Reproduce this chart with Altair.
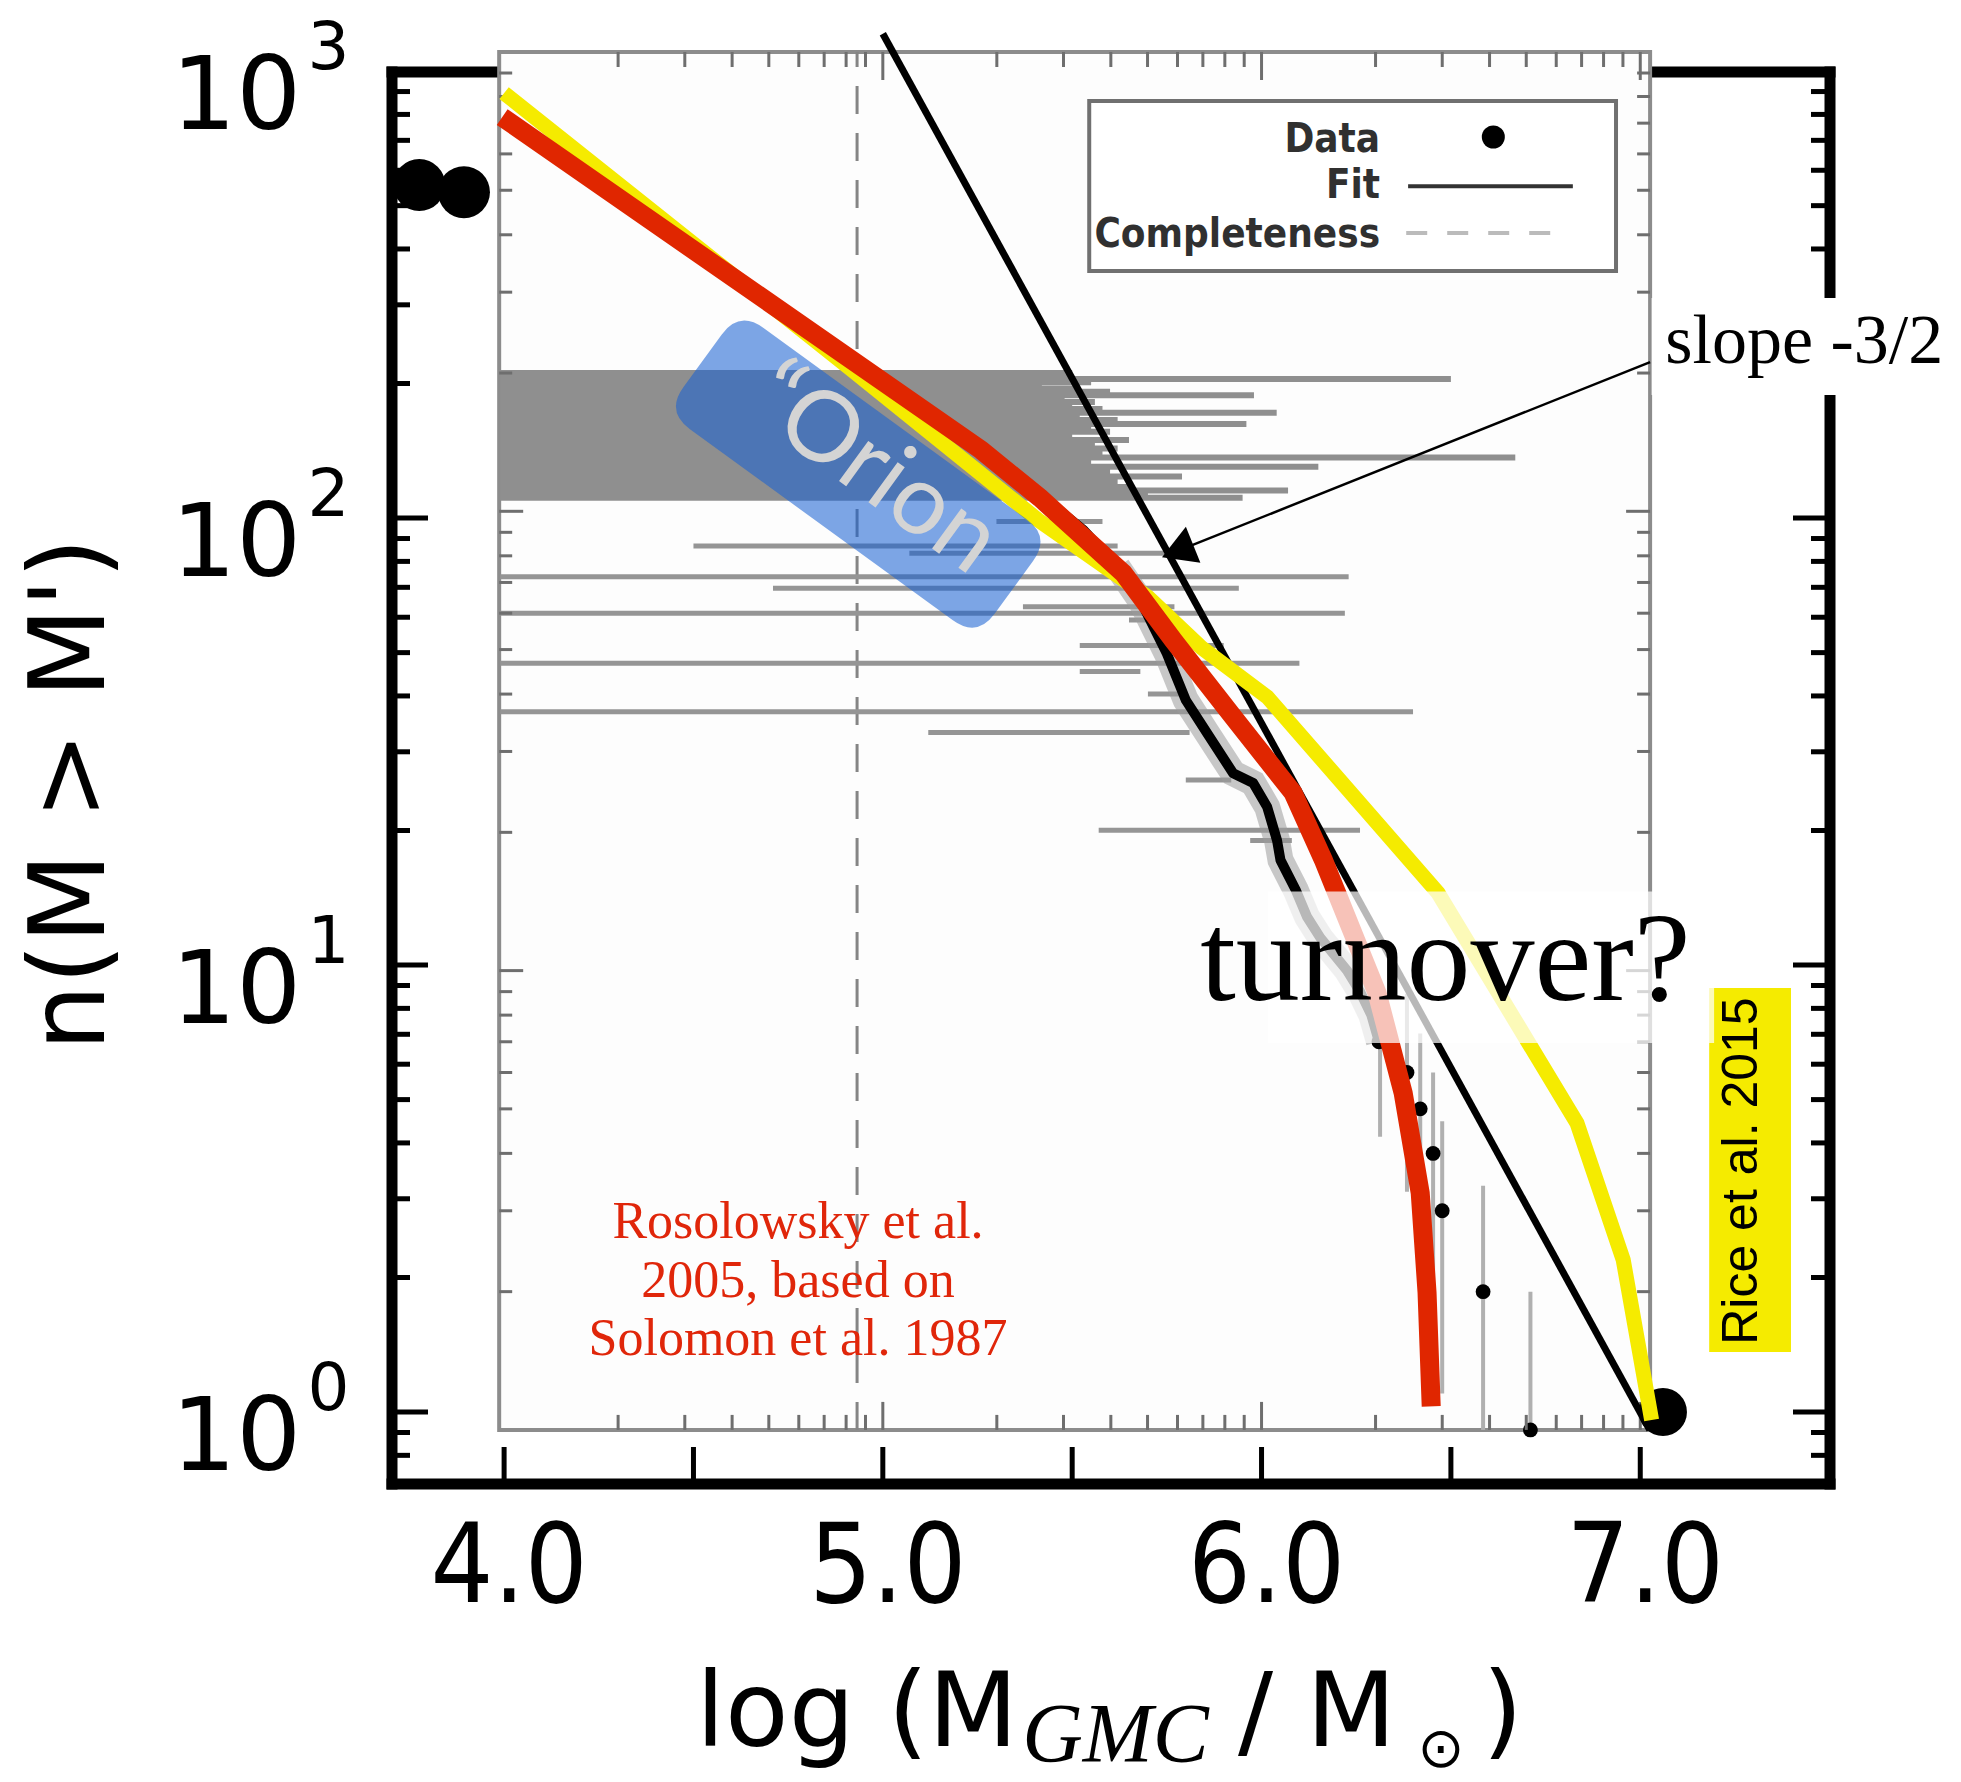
import math
import altair as alt
import pandas as pd

# ------------------------------------------------------------------
# Axes / frame
# ------------------------------------------------------------------
X_DOMAIN = [3.704, 7.501]          # log(M_GMC / M_sun)
Y_OUTER = [0.6902, 995.4]          # outer n(M > M') axis
Y_INNER = [0.7625, 904.6]          # pasted Rosolowsky panel has its own n axis
PLOT_W, PLOT_H = 1438, 1412

OUT_X_TICKS = [4.0, 4.5, 5.0, 5.5, 6.0, 6.5, 7.0]
OUT_X_LABELS = ["4.0", "5.0", "6.0", "7.0"]
OUT_X_LABEL_POS = [4.0, 5.0, 6.0, 7.0]
OUT_Y_MAJOR = [1, 10, 100, 1000]
OUT_Y_EXP = ["0", "1", "2", "3"]
OUT_Y_MINOR = [0.8, 0.9] + [m * 10 ** k for k in (0, 1, 2) for m in range(2, 10)]

INNER_BOX_X = [3.987, 7.026]
INNER_BOX_N = [1, 1000]
IN_X_MAJOR = [5.0, 6.0, 7.0]
IN_X_MINOR = [k + math.log10(m) for k in (4, 5, 6) for m in range(2, 10)]
IN_Y_MAJOR = [10, 100]
IN_Y_MINOR = [m * 10 ** k for k in (0, 1, 2) for m in range(2, 10)]
COMPLETENESS_X = 4.932

# ------------------------------------------------------------------
# Data
# ------------------------------------------------------------------
# Rosolowsky et al. 2005 (red)
RED_LOGM = [3.995, 5.26, 5.415, 5.635, 5.767, 5.925, 6.083, 6.163, 6.305, 6.374, 6.419, 6.437, 6.448]
RED_N = [789, 142, 111, 75.3, 53.3, 35.9, 24.3, 17.2, 8.66, 5.17, 3.09, 1.85, 1.03]
# Rice et al. 2015 (yellow)
YEL_LOGM = [4.0, 4.92, 5.41, 5.70, 5.84, 6.015, 6.466, 6.833, 6.955, 7.03]
YEL_N = [893, 214, 99, 66.6, 51.4, 39.8, 14.5, 4.43, 2.19, 0.96]
# Fit, slope -3/2 (inner panel)
FIT_LOGM = [5.0, 7.025]
FIT_N = [1096, 1]
# Data points of the inner panel (cumulative counts)
DATA_LOGM = [4.95, 5.05, 5.15, 5.22, 5.30, 5.38, 5.45, 5.53, 5.62, 5.68, 5.75, 5.80, 5.856,
             5.925, 5.978, 6.015, 6.041, 6.05, 6.09, 6.12, 6.155, 6.226, 6.26, 6.29, 6.31,
             6.384, 6.419, 6.453, 6.477, 6.585, 6.71]
DATA_N = [200, 180, 160, 145, 130, 115, 103, 91, 75.6, 64, 49, 38.8, 32.9, 26.9, 25.6, 22.7,
          19.2, 17.4, 15, 13.1, 11.8, 10, 9, 8, 7, 6, 5, 4, 3, 2, 1]
# horizontal mass error bars (n, low, high) -- dense band of the many small clouds
BAND_N = [200, 197, 194, 191, 188, 185, 182, 179, 176, 173, 170, 167, 164, 161, 158, 155, 152,
          149, 146, 143, 140, 137, 134, 131, 128, 125, 122, 119, 116, 113, 111, 109, 107]
BAND_LO = [3.99] * 33
BAND_HI = [5.50, 5.45, 6.50, 5.55, 5.42, 5.52, 5.60, 5.98, 5.48, 5.56, 5.50, 5.58, 6.04, 5.52,
           5.62, 5.96, 5.55, 5.60, 5.50, 5.65, 5.56, 5.62, 5.58, 6.67, 5.55, 6.15, 5.60, 5.79,
           5.62, 5.66, 6.07, 5.70, 5.95]
# isolated error bars of the brighter clouds
HERR_N = [95, 84, 81, 72, 68, 62, 60, 58, 51, 46.7, 44.8, 40, 36.6, 33, 26, 20.2, 19.2]
HERR_LO = [5.30, 4.50, 5.07, 3.99, 4.71, 5.37, 3.99, 5.65, 5.52, 3.99, 5.52, 5.70, 3.99, 5.12,
           5.80, 5.57, 5.97]
HERR_HI = [5.58, 5.62, 5.77, 6.23, 5.94, 5.77, 6.22, 5.77, 5.90, 6.10, 5.68, 5.80, 6.40, 5.81,
           5.92, 6.26, 6.08]
# vertical count error bars of the brightest clouds
VERR_LOGM = [6.313, 6.384, 6.419, 6.453, 6.477, 6.585, 6.71]
VERR_LO = [4.35, 3.3, 2.3, 1.6, 1.2, 1.0, 1.0]
VERR_HI = [8.6, 8.9, 7.3, 6.0, 4.7, 3.4, 2.0]
# big markers of the underlying figure
BIG_DOT_LOGM = [3.776, 3.894]
BIG_DOT_N = [556, 536]
END_DOT_LOGM = [7.06]
END_DOT_N = [1.0]

# ------------------------------------------------------------------
# Annotations (text and positions in data units)
# ------------------------------------------------------------------
LEGEND_BOX_X = [5.545, 6.936]
LEGEND_BOX_N = [333.6, 782]
LEGEND_TEXT = ["Data", "Fit", "Completeness"]
LEGEND_TEXT_N = [605, 481, 376]
LEGEND_TEXT_X = 6.313
LEGEND_DOT = (6.612, 653)
LEGEND_FIT = ([6.387, 6.822], 510)
LEGEND_DASH = ([6.382, 6.771], 403.6)

ORION_POS = (4.935, 125.4)
ORION_TEXT_POS = (4.975, 128.0)
ARROW_X = [7.026, 5.792]
ARROW_N = [223.4, 85.3]
SLOPE_BOX_X = [7.03, 7.87]
SLOPE_BOX_N = [188.4, 310.6]
SLOPE_TEXT = (7.066, 222.3, "slope -3/2")
TURN_BOX_X = [6.017, 7.195]
TURN_BOX_N = [6.69, 14.6]
TURN_TEXT = (5.838, 8.35, "turnover?")
RICE_BOX_X = [7.182, 7.398]
RICE_BOX_N = [1.362, 8.88]
RICE_TEXT = (7.269, 3.46, "Rice et al. 2015")
ROSO_TEXT = (4.776, 2.449, "Rosolowsky et al.\n2005, based on\nSolomon et al. 1987")

# ------------------------------------------------------------------
PX_X = PLOT_W / (X_DOMAIN[1] - X_DOMAIN[0])
PX_DEC_OUT = PLOT_H / (math.log10(Y_OUTER[1]) - math.log10(Y_OUTER[0]))
PX_DEC_IN = PLOT_H / (math.log10(Y_INNER[1]) - math.log10(Y_INNER[0]))

xs = alt.Scale(domain=X_DOMAIN, nice=False, zero=False)
ys_out = alt.Scale(type="log", domain=Y_OUTER, nice=False)
ys_in = alt.Scale(type="log", domain=Y_INNER, nice=False)

RED = "#e02600"
YELLOW = "#f5eb00"


def seg(rows, ysc, **mk):
    df = pd.DataFrame(rows, columns=["x", "x2", "y", "y2"])
    return alt.Chart(df).mark_rule(**mk).encode(
        x=alt.X("x:Q", scale=xs, axis=None), x2=alt.X2("x2:Q"),
        y=alt.Y("y:Q", scale=ysc, axis=None), y2=alt.Y2("y2:Q"))


def box(xr, yr, ysc, **mk):
    df = pd.DataFrame({"x": [xr[0]], "x2": [xr[1]], "y": [yr[0]], "y2": [yr[1]]})
    return alt.Chart(df).mark_rect(**mk).encode(
        x=alt.X("x:Q", scale=xs, axis=None), x2=alt.X2("x2:Q"),
        y=alt.Y("y:Q", scale=ysc, axis=None), y2=alt.Y2("y2:Q"))


def line(xv, yv, ysc, **mk):
    df = pd.DataFrame({"x": xv, "y": yv, "o": list(range(len(xv)))})
    return alt.Chart(df).mark_line(**mk).encode(
        x=alt.X("x:Q", scale=xs, axis=None),
        y=alt.Y("y:Q", scale=ysc, axis=None), order="o:Q")


def txt(xv, yv, tv, ysc, **mk):
    df = pd.DataFrame({"x": xv, "y": yv, "t": tv})
    return alt.Chart(df).mark_text(**mk).encode(
        x=alt.X("x:Q", scale=xs, axis=None),
        y=alt.Y("y:Q", scale=ysc, axis=None), text="t:N")


def pts(xv, yv, ysc, mark="circle", **mk):
    df = pd.DataFrame({"x": xv, "y": yv})
    ch = alt.Chart(df)
    ch = ch.mark_circle(**mk) if mark == "circle" else ch.mark_point(**mk)
    return ch.encode(x=alt.X("x:Q", scale=xs, axis=None),
                     y=alt.Y("y:Q", scale=ysc, axis=None))


X0, X1 = X_DOMAIN
Y0, Y1 = Y_OUTER
layers = []

# outer frame and ticks
layers.append(seg([(X0, X0, Y0, Y1), (X0, X1, Y0, Y0), (X1, X1, Y0, Y1), (X0, X1, Y1, Y1)],
                  ys_out, color="black", strokeWidth=11, strokeCap="square"))
tick_rows = []
for v in OUT_Y_MAJOR:
    tick_rows.append((X0, X0 + 36 / PX_X, v, v))
    tick_rows.append((X1 - 37 / PX_X, X1, v, v))
for v in OUT_Y_MINOR:
    tick_rows.append((X0, X0 + 18 / PX_X, v, v))
    tick_rows.append((X1 - 19 / PX_X, X1, v, v))
for v in OUT_X_TICKS:
    tick_rows.append((v, v, Y0, Y0 * 10 ** (37 / PX_DEC_OUT)))
layers.append(seg(tick_rows, ys_out, color="black", strokeWidth=5))

# outer tick labels and titles
layers.append(txt(OUT_X_LABEL_POS, [Y0] * 4, OUT_X_LABELS, ys_out, font="DejaVu Sans Condensed",
                  fontSize=110, align="center", baseline="alphabetic", dy=118, dx=5, color="black"))
layers.append(txt([3.464] * 4, OUT_Y_MAJOR, ["10"] * 4, ys_out, font="DejaVu Sans",
                  fontSize=102, align="right", baseline="alphabetic", dy=58, color="black"))
layers.append(txt([3.481] * 4, OUT_Y_MAJOR, OUT_Y_EXP, ys_out, font="DejaVu Sans",
                  fontSize=66, align="left", baseline="alphabetic", dy=-2, color="black"))
layers.append(txt([2.944], [24.1], ["n(M > M')"], ys_out, font="DejaVu Sans", fontSize=105,
                  angle=270, align="center", baseline="alphabetic", color="black"))
layers.append(txt([4.507, 5.938, 6.583], [Y0] * 3, ["log (M", "/ M", ")"], ys_out,
                  font="DejaVu Sans", fontSize=104, align="left", baseline="alphabetic",
                  dy=262, color="black"))
layers.append(txt([5.368], [Y0], ["GMC"], ys_out, font="Liberation Serif", fontStyle="italic",
                  fontSize=84, align="left", baseline="alphabetic", dy=278, color="black"))
layers.append(txt([6.474], [Y0], ["\u2299"], ys_out, font="DejaVu Sans", fontSize=56,
                  align="center", baseline="middle", dy=266, color="black"))

# big markers hidden behind the pasted panel
layers.append(pts(BIG_DOT_LOGM, BIG_DOT_N, ys_out, size=2700, color="black", opacity=1))

# ---------------- pasted Rosolowsky panel ----------------
layers.append(box(INNER_BOX_X, INNER_BOX_N, ys_in, fill="#fdfdfd", stroke="#8c8c8c",
                  strokeWidth=4))
layers.append(seg([(COMPLETENESS_X, COMPLETENESS_X, 1, 1000)], ys_in, color="#858585",
                  strokeWidth=3, strokeDash=[28, 19]))
band = [(lo, hi, n, n) for n, lo, hi in zip(BAND_N, BAND_LO, BAND_HI)]
layers.append(seg(band, ys_in, color="#8f8f8f", strokeWidth=6))
herr = [(lo, hi, n, n) for n, lo, hi in zip(HERR_N, HERR_LO, HERR_HI)]
layers.append(seg(herr, ys_in, color="#959595", strokeWidth=5))
verr = [(x, x, lo, hi) for x, lo, hi in zip(VERR_LOGM, VERR_LO, VERR_HI)]
layers.append(seg(verr, ys_in, color="#b0b0b0", strokeWidth=4))
# haze of overlapping error bars around the data
layers.append(line(DATA_LOGM[8:25], DATA_N[8:25], ys_in, color="#9a9a9a", strokeWidth=26,
                   opacity=0.55))
layers.append(line(DATA_LOGM[:25], DATA_N[:25], ys_in, color="black", strokeWidth=10,
                   strokeJoin="round"))
layers.append(pts(DATA_LOGM[24:], DATA_N[24:], ys_in, size=220, color="black", opacity=1))

# inner ticks
in_ticks = []
for v in IN_X_MAJOR:
    in_ticks.append((v, v, 1000, 1000 * 10 ** (-28 / PX_DEC_IN)))
    in_ticks.append((v, v, 1, 10 ** (28 / PX_DEC_IN)))
for v in IN_X_MINOR:
    in_ticks.append((v, v, 1000, 1000 * 10 ** (-15 / PX_DEC_IN)))
    in_ticks.append((v, v, 1, 10 ** (15 / PX_DEC_IN)))
bx0, bx1 = INNER_BOX_X
for v in IN_Y_MAJOR:
    in_ticks.append((bx0, bx0 + 24 / PX_X, v, v))
    in_ticks.append((bx1 - 24 / PX_X, bx1, v, v))
for v in IN_Y_MINOR:
    in_ticks.append((bx0, bx0 + 13 / PX_X, v, v))
    in_ticks.append((bx1 - 13 / PX_X, bx1, v, v))
layers.append(seg(in_ticks, ys_in, color="#6e6e6e", strokeWidth=3))

# fit line
layers.append(line(FIT_LOGM, FIT_N, ys_in, color="black", strokeWidth=7))

# inner legend
layers.append(box(LEGEND_BOX_X, LEGEND_BOX_N, ys_in, fill="white", stroke="#707070",
                  strokeWidth=4))
layers.append(txt([LEGEND_TEXT_X] * 3, LEGEND_TEXT_N, LEGEND_TEXT, ys_in,
                  font="DejaVu Sans Condensed", fontWeight="bold", fontSize=40, align="right",
                  baseline="alphabetic", color="#303030"))
layers.append(pts([LEGEND_DOT[0]], [LEGEND_DOT[1]], ys_in, size=530, color="black", opacity=1))
layers.append(seg([(LEGEND_FIT[0][0], LEGEND_FIT[0][1], LEGEND_FIT[1], LEGEND_FIT[1])], ys_in,
                  color="#333333", strokeWidth=4))
layers.append(seg([(LEGEND_DASH[0][0], LEGEND_DASH[0][1], LEGEND_DASH[1], LEGEND_DASH[1])],
                  ys_in, color="#bbbbbb", strokeWidth=4, strokeDash=[21, 20]))

# ---------------- overlays ----------------
layers.append(pts(END_DOT_LOGM, END_DOT_N, ys_out, size=2300, color="black", opacity=1))
layers.append(line(YEL_LOGM, YEL_N, ys_out, color=YELLOW, strokeWidth=15))

ORION_PATH = ("M -0.844 -0.325 L 0.844 -0.325 Q 1 -0.325 1 -0.169 L 1 0.169 "
              "Q 1 0.325 0.844 0.325 L -0.844 0.325 Q -1 0.325 -1 0.169 L -1 -0.169 "
              "Q -1 -0.325 -0.844 -0.325 Z")
layers.append(pts([ORION_POS[0]], [ORION_POS[1]], ys_out, mark="point", shape=ORION_PATH,
                  size=385 ** 2, angle=36, filled=True, fill="rgb(23,97,211)",
                  fillOpacity=0.56, strokeWidth=0))
layers.append(txt([ORION_TEXT_POS[0]], [ORION_TEXT_POS[1]], ["\u201cOrion"], ys_out,
                  font="Lato", fontSize=98, angle=36, align="center", baseline="middle",
                  color="#d4d4d4"))

layers.append(line(RED_LOGM, RED_N, ys_out, color=RED, strokeWidth=19))

# arrow to the fit line
layers.append(seg([(ARROW_X[0], ARROW_X[1], ARROW_N[0], ARROW_N[1])], ys_out, color="black",
                  strokeWidth=2.5))
layers.append(pts([ARROW_X[1]], [ARROW_N[1]], ys_out, mark="point", shape="triangle",
                  size=1500, angle=248, filled=True, fill="black", fillOpacity=1,
                  strokeWidth=0))

# labels
layers.append(box(SLOPE_BOX_X, SLOPE_BOX_N, ys_out, fill="white"))
layers.append(txt([SLOPE_TEXT[0]], [SLOPE_TEXT[1]], [SLOPE_TEXT[2]], ys_out,
                  font="Liberation Serif", fontSize=70, align="left", baseline="alphabetic",
                  color="black"))
layers.append(box(RICE_BOX_X, RICE_BOX_N, ys_out, fill=YELLOW))
layers.append(txt([RICE_TEXT[0]], [RICE_TEXT[1]], [RICE_TEXT[2]], ys_out,
                  font="Liberation Sans", fontSize=50, angle=270, align="center",
                  baseline="middle", color="black"))
layers.append(box(TURN_BOX_X, TURN_BOX_N, ys_out, fill="white", opacity=0.72))
layers.append(txt([TURN_TEXT[0]], [TURN_TEXT[1]], [TURN_TEXT[2]], ys_out,
                  font="Liberation Serif", fontSize=128, align="left", baseline="alphabetic",
                  color="black"))
layers.append(txt([ROSO_TEXT[0]], [ROSO_TEXT[1]], [ROSO_TEXT[2]], ys_out,
                  font="Liberation Serif", fontSize=52, align="center", baseline="alphabetic",
                  lineBreak="\n", lineHeight=58.6, color="#e0260a"))

chart = alt.layer(*layers).resolve_scale(y="independent").properties(
    width=PLOT_W, height=PLOT_H,
    autosize=alt.AutoSizeParams(type="none"),
    padding={"left": 392, "top": 72, "right": 131, "bottom": 298},
    background="white",
).configure_view(stroke=None)

chart.save("out.html", embed_options={"renderer": "svg", "actions": False})
